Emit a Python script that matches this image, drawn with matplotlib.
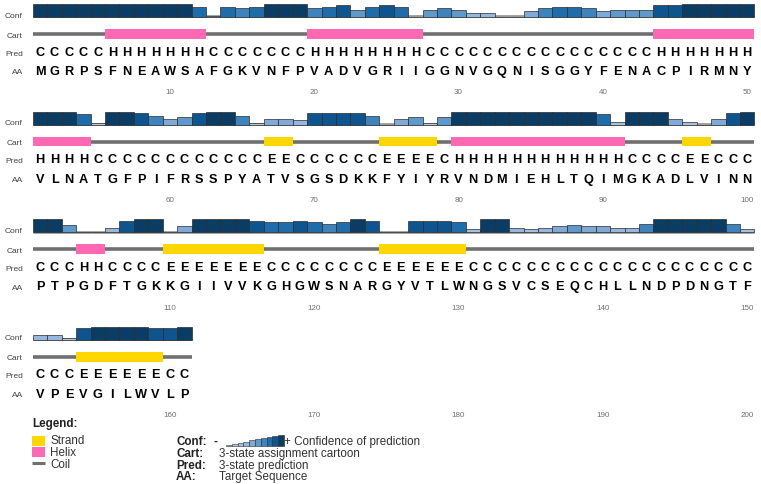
import matplotlib
matplotlib.use("Agg")
import matplotlib.pyplot as plt
from matplotlib.patches import Rectangle

plt.rcParams["font.family"] = ["Liberation Sans", "DejaVu Sans"]

# PSIPRED style output, 161 residues, 50 per row
aa_seq = ("MGRPSFNEAWSAFGKVNFPVADVGRIIGGNVGQNISGGYFENACPIRMNY"
          "VLNATGFPIFRSSPYATVSGSDKKFYIYRVNDMIEHLTQIMGKADLVINN"
          "PTPGDFTGKKGIIVVKGHGWSNARGYVTLWNGSVCSEQCHLLNDPDNGTF"
          "VPEVGILWVLP")
pred_seq = ("CCCCCHHHHHHHCCCCCCCHHHHHHHHCCCCCCCCCCCCCCCCHHHHHHH"
            "HHHHCCCCCCCCCCCCEECCCCCCEEEECHHHHHHHHHHHHCCCCEECCC"
            "CCCHHCCCCEEEEEEECCCCCCCCEEEEEECCCCCCCCCCCCCCCCCCCC"
            "CCCEEEEEECC")
conf_seq = ("99999999999717679996785787056533004677645558899999"
            "99971998645899614438888604515999999999972999420489"
            "99500389904999987787679800888729932345443369999962"
            "33189999889")
tick_labels = [10, 20, 30, 40, 50]

per_row = 50
n_rows = 4

conf_colors = ["#c4ccd9", "#b9c6db", "#a8c0df", "#97b8de", "#7fa9d6",
               "#5f98cb", "#3d84bf", "#1f6cab", "#0e5590", "#0a3c64"]
helix_col = "#ff69b4"
strand_col = "#ffd700"
coil_col = "#707070"

res_w = 14.43
left_px = 32.9
row_gap = 107.6
bar_max = 13.0

fig = plt.figure(figsize=(7.61, 4.85), dpi=100)
ax = fig.add_axes([0, 0, 1, 1])
ax.set_xlim(0.5 - left_px / res_w, 0.5 + (761 - left_px) / res_w)
ax.set_ylim(485, 0)
ax.axis("off")


def row_runs(s):
    runs = []
    start = 0
    for i in range(1, len(s) + 1):
        if i == len(s) or s[i] != s[start]:
            runs.append((s[start], start, i))
            start = i
    return runs


for r in range(n_rows):
    y0 = 18 + r * row_gap
    lo = r * per_row
    hi = min(lo + per_row, len(aa_seq))
    n = hi - lo
    xs = list(range(1, n + 1))
    conf = [int(c) for c in conf_seq[lo:hi]]
    pred = pred_seq[lo:hi]
    aa = aa_seq[lo:hi]

    # labels on the left
    for lab, dy in [("Conf", -2), ("Cart", 18), ("Pred", 36), ("AA", 55)]:
        ax.text(0.5 - 10.0 / res_w, y0 + dy, lab, ha="right", va="center",
                fontsize=6, color="#444444")

    # confidence bars
    ax.plot([0.5, n + 0.5], [y0 - 0.6, y0 - 0.6], color="#9a9a9a", lw=2.0,
            solid_capstyle="butt", zorder=1)
    heights = [c / 9 * bar_max for c in conf]
    ax.bar(xs, heights, width=1.0, bottom=[y0 - h for h in heights],
           color=[conf_colors[c] for c in conf], edgecolor="#2b2b2b",
           linewidth=0.5, zorder=2)

    # cartoon
    cy = y0 + 17
    ax.plot([0.5, n + 0.5], [cy, cy], color=coil_col, lw=2.6,
            solid_capstyle="butt", zorder=1)
    for state, a, b in row_runs(pred):
        if state == "C":
            continue
        col = helix_col if state == "H" else strand_col
        ax.add_patch(Rectangle((a + 0.5, cy - 4.8), b - a, 9.6,
                               facecolor=col, edgecolor="none", zorder=2))

    # prediction and sequence letters
    for i in range(n):
        ax.text(xs[i], y0 + 34.5, pred[i], ha="center", va="center",
                fontsize=9.2, fontweight="bold", color="black")
        ax.text(xs[i], y0 + 54, aa[i], ha="center", va="center",
                fontsize=9.2, fontweight="bold", color="black")

    # residue numbers
    for t in tick_labels:
        ax.text(t, y0 + 75, str(t + lo), ha="center", va="center",
                fontsize=5.8, color="#707070")

# legend
def px2x(p):
    return 0.5 + (p - left_px) / res_w


ax.text(px2x(32), 424, "Legend:", ha="left", va="center", fontsize=8.4,
        fontweight="bold", color="#222222")
ax.add_patch(Rectangle((px2x(32), 437), 13 / res_w, 10, facecolor=strand_col,
                       edgecolor="none"))
ax.add_patch(Rectangle((px2x(32), 448), 13 / res_w, 10, facecolor=helix_col,
                       edgecolor="none"))
ax.plot([px2x(32), px2x(45)], [464, 464], color=coil_col, lw=2.2,
        solid_capstyle="butt")
for lab, yy in [("Strand", 441), ("Helix", 453), ("Coil", 465)]:
    ax.text(px2x(50), yy, lab, ha="left", va="center", fontsize=8.4,
            color="#333333")

keys = [("Conf:", 442), ("Cart:", 454), ("Pred:", 466), ("AA:", 477)]
descs = ["", "3-state assignment cartoon", "3-state prediction", "Target Sequence"]
for (k, yy), d in zip(keys, descs):
    ax.text(px2x(176), yy, k, ha="left", va="center", fontsize=8.4,
            fontweight="bold", color="#222222")
    if d:
        ax.text(px2x(219), yy, d, ha="left", va="center", fontsize=8.4,
                color="#333333")

ax.text(px2x(213), 442, "-", ha="left", va="center", fontsize=8.4,
        fontweight="bold", color="#222222")
mini_w = 5.8 / res_w
for c in range(10):
    h = 1.0 + c * 1.15
    ax.add_patch(Rectangle((px2x(226) + c * mini_w, 447 - h), mini_w, h,
                           facecolor=conf_colors[c], edgecolor="#2b2b2b",
                           linewidth=0.4))
ax.text(px2x(284), 442, "+ Confidence of prediction", ha="left", va="center",
        fontsize=8.4, color="#333333")

fig.savefig("out.png", dpi=100)
